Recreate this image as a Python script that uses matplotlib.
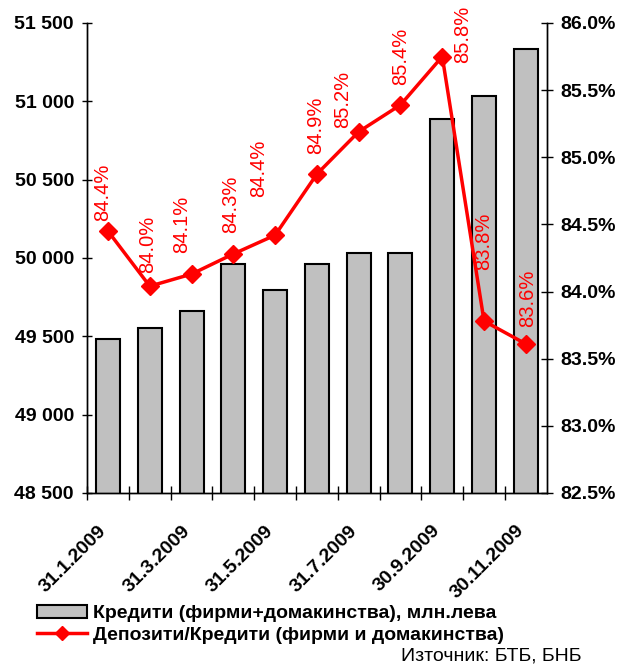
import numpy as np
import matplotlib
matplotlib.use('Agg')
import matplotlib.pyplot as plt
from matplotlib.patches import Patch
from matplotlib.lines import Line2D

plt.rcParams['font.family'] = ['Liberation Sans', 'DejaVu Sans']

# Données
dates = ['31.1.2009', '28.2.2009', '31.3.2009', '30.4.2009', '31.5.2009', '30.6.2009',
         '31.7.2009', '31.8.2009', '30.9.2009', '31.10.2009', '30.11.2009']
credits = [49485, 49550, 49662, 49962, 49796, 49962, 50034, 50034, 50887, 51036, 51336]
ratio = [84.45, 84.04, 84.13, 84.28, 84.42, 84.875, 85.19, 85.39, 85.75, 83.78, 83.61]
ratio_labels = ['84.4%', '84.0%', '84.1%', '84.3%', '84.4%', '84.9%',
                '85.2%', '85.4%', '85.8%', '83.8%', '83.6%']
# decalage des etiquettes (pixels) par rapport au point
lab_dx = [-5, -2, -10, -3, -16, -1, -16, 0, 20, 0, 2]
lab_dy = [10, 13, 21, 21, 38, 20, 4, 20, -6, 51, 17]

fig = plt.figure(figsize=(6.22, 6.66), dpi=100)
ax = fig.add_axes([0.140, 0.2598, 0.739, 0.7057])
ax2 = ax.twinx()

x = np.arange(len(dates))
ax.bar(x, credits, width=0.575, color='#C0C0C0', edgecolor='black', linewidth=1.5, zorder=2)
ax.set_ylim(48500, 51500)
ax.set_xlim(-0.5, len(dates) - 0.5)
ax.set_yticks(np.arange(48500, 51501, 500))
ax.set_yticklabels([f'{v:,}'.replace(',', ' ') for v in np.arange(48500, 51501, 500)],
                   fontsize=14, fontweight='bold')

ax.set_xticks(x - 0.5, minor=False)
ax.set_xticklabels([])
ax.set_xticks(x - 0.25, minor=True)
ax.set_xticklabels([d if i % 2 == 0 else '' for i, d in enumerate(dates)], minor=True,
                   rotation=45, ha='right', rotation_mode='anchor', fontsize=14, fontweight='bold')
ax.tick_params(axis='x', which='major', direction='inout', length=10, width=1)
ax.tick_params(axis='x', which='minor', length=0, pad=21)
ax.tick_params(axis='y', direction='inout', length=7, width=1, pad=6)

ax2.plot(x, ratio, color='red', linewidth=2.5, marker='D', markersize=9, zorder=3)
ax2.set_ylim(82.5, 86.0)
ax2.set_yticks(np.arange(82.5, 86.01, 0.5))
ax2.set_yticklabels([f'{v:.1f}%' for v in np.arange(82.5, 86.01, 0.5)],
                    fontsize=14, fontweight='bold')
ax2.tick_params(axis='y', direction='inout', length=8, width=1, pad=6)

for i in range(len(x)):
    ax2.annotate(ratio_labels[i], (x[i], ratio[i]), xytext=(lab_dx[i], lab_dy[i]),
                 textcoords='offset pixels', rotation=90, ha='center', va='bottom',
                 color='red', fontsize=14.5, fontweight='medium')

for a in (ax, ax2):
    a.spines['top'].set_visible(False)
    for s in ('left', 'right', 'bottom'):
        a.spines[s].set_linewidth(1)

handles = [Patch(facecolor='#C0C0C0', edgecolor='black', linewidth=1.5),
           Line2D([0], [0], color='red', linewidth=2.5, marker='D', markersize=7)]
labels = ['Кредити (фирми+домакинства), млн.лева', 'Депозити/Кредити (фирми и домакинства)']
fig.legend(handles, labels, loc='upper left', bbox_to_anchor=(0.059, 0.092), frameon=False,
           prop={'size': 14, 'weight': 'bold'}, borderpad=0, handlelength=2.6,
           handletextpad=0.3, labelspacing=0.2, borderaxespad=0)

fig.text(0.935, 0.003, 'Източник: БТБ, БНБ', ha='right', va='bottom', fontsize=14)

fig.savefig('out.png', dpi=100)
